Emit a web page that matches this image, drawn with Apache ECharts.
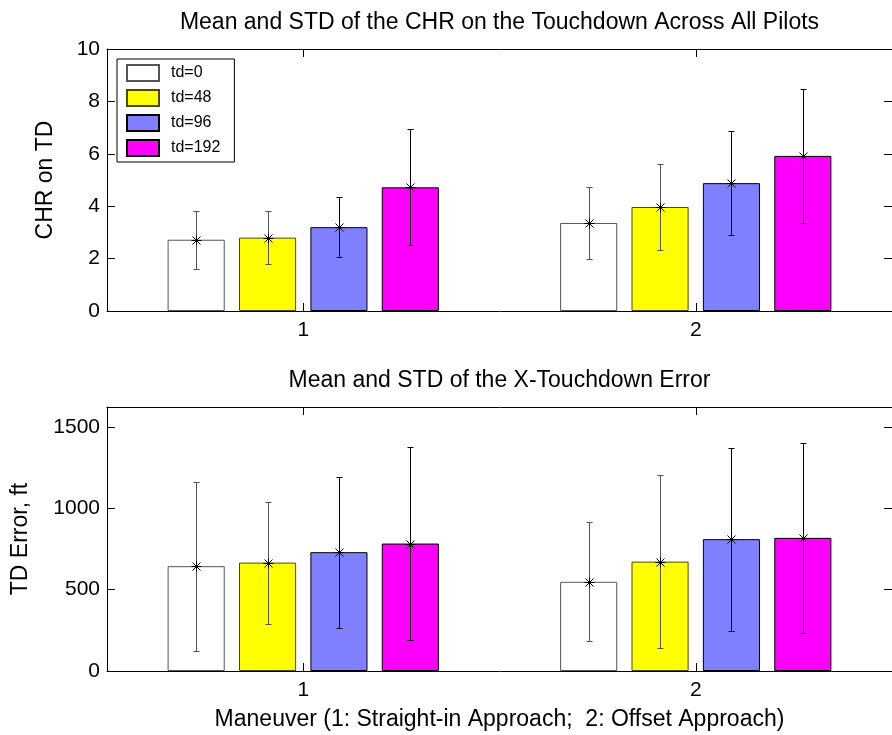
<!DOCTYPE html>
<html>
<head>
<meta charset="utf-8">
<script src="https://cdn.jsdelivr.net/npm/echarts@6/dist/echarts.min.js"></script>
<style>
html,body{margin:0;padding:0;background:#fff;}
#chart{width:892px;height:735px;}
</style>
</head>
<body>
<div id="chart"></div>
<script>
// ---- data ----
const categories = ['1', '2'];
const seriesNames = ['td=0', 'td=48', 'td=96', 'td=192'];
// CHR on touchdown: mean and std, per series, per maneuver
const chrMean = [[2.72, 3.36], [2.80, 3.97], [3.20, 4.88], [4.72, 5.92]];
const chrStd  = [[1.10, 1.38], [1.01, 1.65], [1.15, 1.98], [2.21, 2.56]];
// X-touchdown error (ft): mean and std
const tdMean = [[644, 548], [666, 672], [730, 810], [783, 818]];
const tdStd  = [[520, 365], [375, 530], [463, 563], [592, 582]];
const chrTicks = {min: 0, max: 10, interval: 2};
const tdTicks = {min: 0, max: 1622, interval: 500};

const titleTop = 'Mean and STD of the CHR on the Touchdown Across All Pilots';
const titleBottom = 'Mean and STD of the X-Touchdown Error';
const yNameTop = 'CHR on TD';
const yNameBottom = 'TD Error, ft';
const xNameBottom = 'Maneuver (1: Straight-in Approach;  2: Offset Approach)';

// ---- styles ----
const FONT = '"Liberation Sans", Arial, Helvetica, sans-serif';
const barColors = ['#ffffff', '#ffff00', '#8080ff', '#ff00ff'];
const edgeColors = ['#555555', '#4a4a00', '#000000', '#000000'];
const errColors = ['#555555', '#555555', '#000000', '#000000'];
const BAR_W = 0.1455;      // fraction of category band
const SLOT = BAR_W * 1.25; // bar + gap

function errRender(idx) {
  return function (params, api) {
    const ci = api.value(0), m = api.value(1), s = api.value(2);
    const band = api.size([1, 0])[0];
    const c = api.coord([ci, m]);
    const x = Math.round(c[0] + (idx - 1.5) * SLOT * band) + 0.5;
    const yT = Math.round(api.coord([ci, m + s])[1]) + 0.5;
    const yB = Math.round(api.coord([ci, m - s])[1]) + 0.5;
    const y = Math.round(c[1]) + 0.5;
    const st = {stroke: errColors[idx], lineWidth: 1};
    const ast = {stroke: '#000', lineWidth: 1};
    const cap = 3, r = 5, d = 4;
    return {
      type: 'group',
      children: [
        {type: 'line', shape: {x1: x, y1: yT, x2: x, y2: yB}, style: st},
        {type: 'line', shape: {x1: x - cap, y1: yT, x2: x + cap, y2: yT}, style: st},
        {type: 'line', shape: {x1: x - cap, y1: yB, x2: x + cap, y2: yB}, style: st},
        {type: 'line', shape: {x1: x - r, y1: y, x2: x + r, y2: y}, style: ast},
        {type: 'line', shape: {x1: x - d, y1: y - d, x2: x + d, y2: y + d}, style: ast},
        {type: 'line', shape: {x1: x - d, y1: y + d, x2: x + d, y2: y - d}, style: ast},
        {type: 'line', shape: {x1: x, y1: y - r, x2: x, y2: y + r}, style: ast}
      ]
    };
  };
}

const axisLine = {show: true, onZero: false, lineStyle: {color: '#000', width: 1}};
const tickStyle = {show: true, inside: true, length: 8, alignWithLabel: true, lineStyle: {color: '#000'}};
const labelStyle = {color: '#000', fontSize: 21, fontFamily: FONT};
const nameStyle = {color: '#000', fontSize: 23, fontFamily: FONT};

function xAxes(grid, title, xname) {
  return [
    {gridIndex: grid, type: 'category', data: categories, position: 'bottom',
     axisLine: axisLine, axisTick: tickStyle,
     axisLabel: Object.assign({margin: 9}, labelStyle),
     name: xname, nameLocation: 'middle', nameGap: 37, nameTextStyle: nameStyle,
     splitLine: {show: false}},
    {gridIndex: grid, type: 'category', data: categories, position: 'top',
     axisLine: axisLine, axisTick: tickStyle, axisLabel: {show: false},
     name: title, nameLocation: 'middle', nameGap: 15, nameTextStyle: nameStyle,
     splitLine: {show: false}}
  ];
}
function yAxes(grid, ticks, yname, gap) {
  return [
    {gridIndex: grid, type: 'value', position: 'left', min: ticks.min, max: ticks.max, interval: ticks.interval,
     axisLine: axisLine, axisTick: {show: true, inside: true, length: 8, lineStyle: {color: '#000'}},
     axisLabel: Object.assign({margin: 7, showMaxLabel: ticks.max % ticks.interval === 0,
                               formatter: function (v) { return String(v); }}, labelStyle),
     name: yname, nameLocation: 'middle', nameGap: gap, nameRotate: 90, nameTextStyle: nameStyle,
     splitLine: {show: false}},
    {gridIndex: grid, type: 'value', position: 'right', min: ticks.min, max: ticks.max, interval: ticks.interval,
     axisLine: axisLine, axisTick: {show: true, inside: true, length: 8, lineStyle: {color: '#000'}},
     axisLabel: {show: false}, splitLine: {show: false}}
  ];
}

const series = [];
function addPanel(grid, means, stds) {
  seriesNames.forEach((name, i) => {
    series.push({
      type: 'bar', name: name, xAxisIndex: grid * 2, yAxisIndex: grid * 2,
      data: means[i], barWidth: (BAR_W * 100) + '%', barGap: '25%',
      itemStyle: {color: barColors[i], borderColor: edgeColors[i], borderWidth: 1},
      emphasis: {disabled: true}, silent: true
    });
  });
  seriesNames.forEach((name, i) => {
    series.push({
      type: 'custom', name: 'err_' + grid + '_' + i, xAxisIndex: grid * 2, yAxisIndex: grid * 2,
      data: categories.map((c, ci) => [ci, means[i][ci], stds[i][ci]]),
      renderItem: errRender(i), silent: true, z: 5
    });
  });
}
addPanel(0, chrMean, chrStd);
addPanel(1, tdMean, tdStd);

const option = {
  animation: false,
  backgroundColor: '#ffffff',
  textStyle: {fontFamily: FONT},
  legend: {
    data: seriesNames.map(n => ({name: n, icon: 'rect'})), orient: 'vertical', left: 117, top: 59,
    padding: [5, 14, 5, 9], itemGap: 7, itemWidth: 32, itemHeight: 16,
    backgroundColor: '#fff', borderColor: '#000', borderWidth: 1,
    textStyle: {color: '#000', fontSize: 16, fontFamily: FONT, padding: [0, 0, 0, 7]},
    selectedMode: false
  },
  grid: [
    {left: 107, top: 49, width: 787, height: 262},
    {left: 107, top: 407, width: 787, height: 264}
  ],
  xAxis: xAxes(0, titleTop, '').concat(xAxes(1, titleBottom, xNameBottom)),
  yAxis: yAxes(0, chrTicks, yNameTop, 50).concat(yAxes(1, tdTicks, yNameBottom, 75)),
  series: series
};

const chart = echarts.init(document.getElementById('chart'), null, {renderer: 'canvas'});
chart.setOption(option);
</script>
</body>
</html>
